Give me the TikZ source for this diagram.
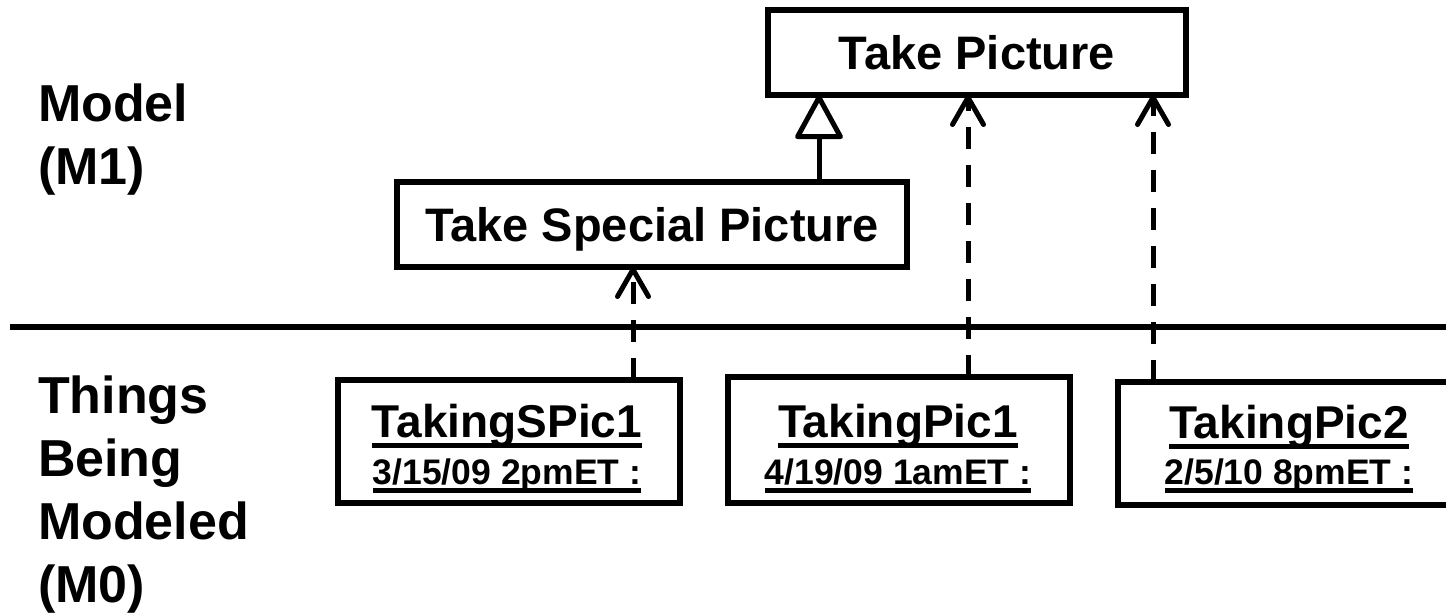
\documentclass[tikz,border=0pt]{standalone}
\usepackage{fontspec}
\setmainfont{Liberation Sans}
\usetikzlibrary{arrows.meta}

% text with a rule underneath: #1 text, #2 rule bottom below baseline, #3 rule thickness
\newcommand{\ulbox}[3]{\setbox0\hbox{#1}\rlap{\copy0}\rule[-#2]{\wd0}{#3}}

\begin{document}
\begin{tikzpicture}[x=1pt,y=-1pt,
  every node/.style={inner sep=0pt, outer sep=0pt},
  classbox/.style={draw, line width=5.5pt, minimum width=#1, minimum height=85pt,
    text height=34pt, text depth=0pt, font=\fontsize{47}{56}\selectfont\bfseries},
  instbox/.style={draw, line width=5.5pt, minimum width=342pt, minimum height=#1},
  nametext/.style={font=\fontsize{46}{56}\selectfont\bfseries, anchor=base},
  datetext/.style={font=\fontsize{35.5}{42}\selectfont\bfseries, anchor=base},
  leveltext/.style={font=\fontsize{52}{63}\selectfont\bfseries, align=left, anchor=base west},
  divider/.style={line width=5.5pt},
  instanceof/.style={line width=5pt, dash pattern=on 22pt off 16pt,
    -{Straight Barb[length=27pt, width=31pt, line width=5pt, round]}},
  inherits/.style={line width=5pt,
    -{Triangle[open, length=47pt, width=50pt, line width=5pt, round]}}
]
\useasboundingbox (0,0) rectangle (1446,615);
\clip (0,0) rectangle (1446,615);

% level labels (anchored on the baseline of their last line)
\node[leveltext] (m1) at (38,185) {Model\\(M1)};
\node[leveltext] (m0) at (38,602) {Things\\Being\\Modeled\\(M0)};

% level divider
\coordinate (divL) at (10,327);
\coordinate (divR) at (1446,327);
\draw[divider] (divL) -- (divR);

% classes
\node[classbox=418pt] (tp)  at (977,52.5)  {Take Picture};
\node[classbox=510pt] (tsp) at (652,224.5) {Take Special Picture};

% instances
\node[instbox=123pt] (sp1) at (509,441.5) {};
\node[nametext] (sp1n) at (507,437) {\ulbox{TakingSPic1}{10.7pt}{5pt}};
\node[datetext] (sp1d) at (507,484) {\ulbox{3/15/09 2pmET :}{8.5pt}{4.3pt}};

\node[instbox=126pt] (p1) at (899,440) {};
\node[nametext] (p1n) at (898,437) {\ulbox{TakingPic1}{10.7pt}{5pt}};
\node[datetext] (p1d) at (898,484) {\ulbox{4/19/09 1amET :}{8.5pt}{4.3pt}};

\node[instbox=123pt] (p2) at (1289,443.5) {};
\node[nametext] (p2n) at (1289,438) {\ulbox{TakingPic2}{10.7pt}{5pt}};
\node[datetext] (p2d) at (1289,484) {\ulbox{2/5/10 8pmET :}{8.5pt}{4.3pt}};

% connector columns
\coordinate (gx) at (819,0);
\coordinate (x1) at (633,0);
\coordinate (x2) at (968,0);
\coordinate (x3) at (1153,0);

% generalization
\draw[inherits] (tsp.north -| gx) -- (tp.south -| gx);

% instance-of dependencies
\draw[instanceof] (sp1.north -| x1) -- (tsp.south -| x1);
\draw[instanceof] (p1.north -| x2) -- (tp.south -| x2);
\draw[instanceof] (p2.north -| x3) -- (tp.south -| x3);
\end{tikzpicture}
\end{document}
